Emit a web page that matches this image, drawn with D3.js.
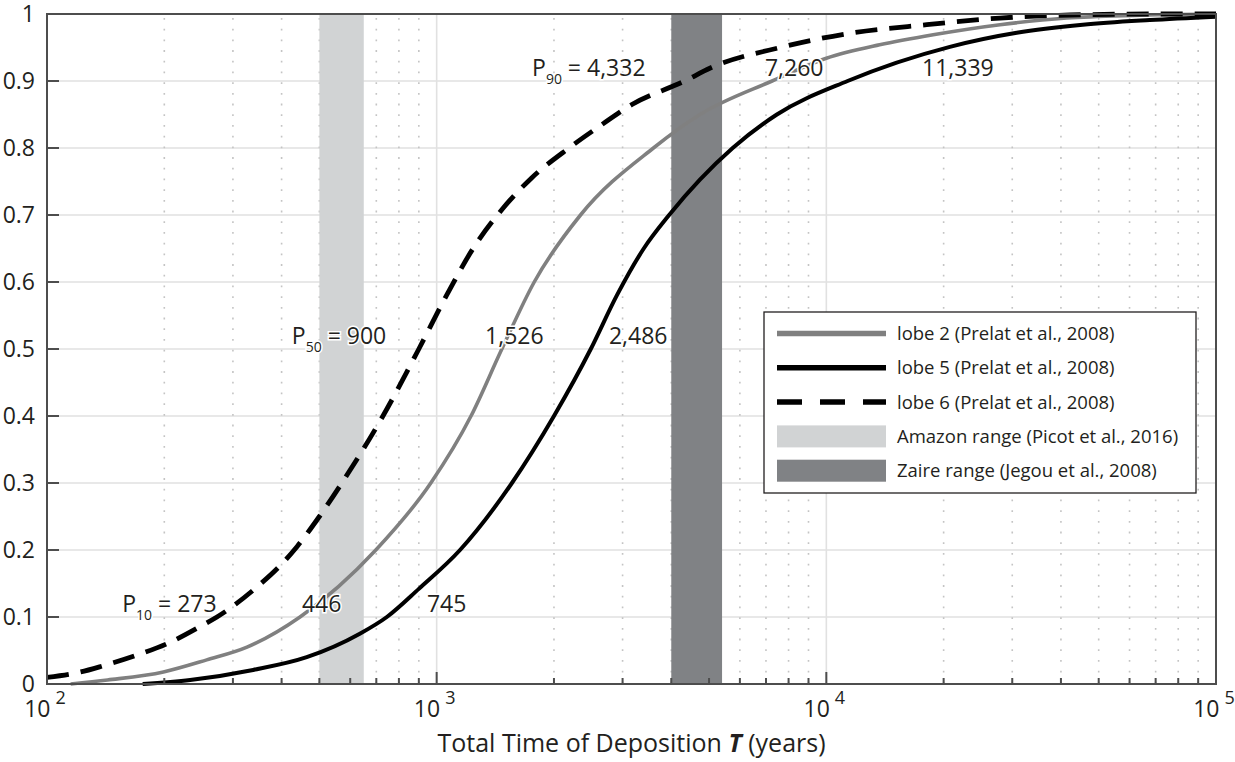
<!DOCTYPE html>
<html>
<head>
<meta charset="utf-8">
<script src="https://cdn.jsdelivr.net/npm/d3@7/dist/d3.min.js"></script>
<style>
  body { margin: 0; background: #fff; }
  text { font-family: "Open Sans", sans-serif; fill: #231f20; }
</style>
</head>
<body>
<svg id="chart"></svg>
<script>
// cumulative probability curves (T in years, P)
const lobe2T = [115, 143, 199, 257, 326, 446, 698, 966, 1225, 1470, 1780, 2340, 3600, 4740, 7260, 10000, 13700, 18800, 27900, 41400, 61200, 100000]
const lobe2P = [0, 0.006, 0.018, 0.036, 0.055, 0.1, 0.2, 0.3, 0.4, 0.5, 0.6, 0.7, 0.8, 0.85, 0.9, 0.934, 0.954, 0.969, 0.984, 0.994, 0.998, 1]

const lobe5T = [176, 233, 338, 464, 635, 745, 900, 1148, 1560, 2000, 2486, 2900, 3400, 3950, 5750, 7467, 11339, 20750, 30800, 45500, 67600, 100000]
const lobe5P = [0, 0.006, 0.021, 0.04, 0.075, 0.1, 0.142, 0.2, 0.3, 0.4, 0.5, 0.58, 0.65, 0.7, 0.8, 0.85, 0.9, 0.951, 0.972, 0.984, 0.991, 0.996]

const lobe6T = [100, 122, 139, 170, 203, 251, 273, 346, 397, 438, 500, 571, 728, 900, 1060, 1240, 1480, 1750, 2185, 2656, 3170, 4332, 5023, 7746, 11700, 18100, 27900, 42200, 70500, 100000]
const lobe6P = [0.01, 0.018, 0.027, 0.043, 0.06, 0.088, 0.1, 0.145, 0.177, 0.205, 0.25, 0.3, 0.4, 0.5, 0.58, 0.65, 0.71, 0.755, 0.8, 0.835, 0.865, 0.9, 0.919, 0.951, 0.972, 0.984, 0.994, 0.9985, 1, 1]

// shaded ranges (years)
const amazonRange = [500, 650]
const zaireRange = [4000, 5400]

const yTicks = [0, 0.1, 0.2, 0.3, 0.4, 0.5, 0.6, 0.7, 0.8, 0.9, 1]
const xDecades = [100, 1000, 10000, 100000]
const xExponents = ["2", "3", "4", "5"]

const legendLabels = ["lobe 2 (Prelat et al., 2008)", "lobe 5 (Prelat et al., 2008)", "lobe 6 (Prelat et al., 2008)",
  "Amazon range (Picot et al., 2016)", "Zaire range (Jegou et al., 2008)"]

// percentile annotations: [sub, text, T where text starts, P of the row]
const notes = [
  ["90", " = 4,332", 1757, 0.9], [null, "7,260", 6957, 0.9], [null, "11,339", 17600, 0.9],
  ["50", " = 900", 425, 0.5], [null, "1,526", 1331, 0.5], [null, "2,486", 2767, 0.5],
  ["10", " = 273", 156, 0.1], [null, "446", 451, 0.1], [null, "745", 944, 0.1]
]

const width = 1235, height = 762
const svg = d3.select("#chart").attr("width", width).attr("height", height)

const x = d3.scaleLog().domain([100, 100000]).range([47, 1216])
const y = d3.scaleLinear().domain([0, 1]).range([684, 14])

const minorTicks = []
xDecades.slice(0, 3).forEach(function(d) {
  for (let k = 2; k <= 9; k++) minorTicks.push(d * k)
})

// grid
const grid = svg.append("g")
grid.selectAll(".ygrid").data(yTicks.slice(1, -1)).enter().append("line")
  .attr("x1", x(100)).attr("x2", x(100000))
  .attr("y1", d => y(d)).attr("y2", d => y(d))
  .attr("stroke", "#e1e1e1").attr("stroke-width", 1.6)
grid.selectAll(".xgrid").data(xDecades.slice(1, -1)).enter().append("line")
  .attr("x1", d => x(d)).attr("x2", d => x(d))
  .attr("y1", y(0)).attr("y2", y(1))
  .attr("stroke", "#e1e1e1").attr("stroke-width", 1.6)
grid.selectAll(".xminor").data(minorTicks).enter().append("line")
  .attr("x1", d => x(d)).attr("x2", d => x(d))
  .attr("y1", y(1) + 4).attr("y2", y(0))
  .attr("stroke", "#c4c4c4").attr("stroke-width", 1.6)
  .attr("stroke-dasharray", "1.8,8.9")

// shaded ranges
svg.append("rect")
  .attr("x", x(amazonRange[0])).attr("width", x(amazonRange[1]) - x(amazonRange[0]))
  .attr("y", y(1)).attr("height", y(0) - y(1))
  .attr("fill", "#d1d3d4")
svg.append("rect")
  .attr("x", x(zaireRange[0])).attr("width", x(zaireRange[1]) - x(zaireRange[0]))
  .attr("y", y(1)).attr("height", y(0) - y(1))
  .attr("fill", "#808285")

// curves
const line = d3.line()
  .x(d => x(d[0]))
  .y(d => y(d[1]))
  .curve(d3.curveMonotoneX)

const series = [
  { t: lobe2T, p: lobe2P, color: "#808080", w: 3.6, dash: null },
  { t: lobe5T, p: lobe5P, color: "#000", w: 4, dash: null },
  { t: lobe6T, p: lobe6P, color: "#000", w: 4.8, dash: "22,12" }
]
svg.selectAll(".curve").data(series).enter().append("path")
  .attr("class", "curve")
  .attr("d", d => line(d.t.map((t, i) => [t, d.p[i]])))
  .attr("fill", "none")
  .attr("stroke", d => d.color)
  .attr("stroke-width", d => d.w)
  .attr("stroke-dasharray", d => d.dash)

// axes box and ticks
const axisColor = "#4d4d4d"
svg.append("rect")
  .attr("x", x(100)).attr("y", y(1))
  .attr("width", x(100000) - x(100)).attr("height", y(0) - y(1))
  .attr("fill", "none").attr("stroke", axisColor).attr("stroke-width", 2)

svg.selectAll(".ytick").data(yTicks).enter().append("line")
  .attr("x1", x(100)).attr("x2", x(100) + 12)
  .attr("y1", d => y(d)).attr("y2", d => y(d))
  .attr("stroke", axisColor).attr("stroke-width", 2)
svg.selectAll(".ylab").data(yTicks).enter().append("text")
  .attr("x", 35).attr("y", d => y(d))
  .attr("dy", "0.36em")
  .attr("text-anchor", "end")
  .attr("font-size", 23)
  .text(d => (d === 0 || d === 1) ? d : d.toFixed(1))

svg.selectAll(".xminortick").data(minorTicks).enter().append("line")
  .attr("x1", d => x(d)).attr("x2", d => x(d))
  .attr("y1", y(0)).attr("y2", y(0) - 6)
  .attr("stroke", axisColor).attr("stroke-width", 2)
svg.selectAll(".xmajortick").data(xDecades).enter().append("line")
  .attr("x1", d => x(d)).attr("x2", d => x(d))
  .attr("y1", y(0)).attr("y2", y(0) - 12)
  .attr("stroke", axisColor).attr("stroke-width", 2)

const xlab = svg.selectAll(".xlab").data(xDecades).enter().append("text")
  .attr("x", d => x(d) - 2).attr("y", 717)
  .attr("text-anchor", "middle")
  .attr("font-size", 23)
xlab.append("tspan").text("10")
xlab.append("tspan").attr("dx", 5).attr("dy", -13).attr("font-size", 18)
  .text((d, i) => xExponents[i])

const title = svg.append("text")
  .attr("x", (x(100) + x(100000)) / 2).attr("y", 752)
  .attr("text-anchor", "middle")
  .attr("font-size", 25)
title.append("tspan").text("Total Time of Deposition ")
title.append("tspan").attr("font-weight", "bold").attr("font-style", "italic").text("T")
title.append("tspan").text(" (years)")

// percentile labels
notes.forEach(function(n) {
  const t = svg.append("text")
    .attr("x", x(n[2])).attr("y", y(n[3]) - 5)
    .attr("font-size", 23)
    .attr("stroke", "#fff").attr("stroke-width", 3)
    .attr("paint-order", "stroke")
  if (n[0]) {
    t.append("tspan").text("P")
    t.append("tspan").attr("font-size", 14).attr("dy", 8).text(n[0])
    t.append("tspan").attr("dy", -8).text(n[1])
  } else {
    t.text(n[1])
  }
})

// legend
const lg = svg.append("g").attr("transform", "translate(764,312)")
lg.append("rect").attr("width", 432).attr("height", 181)
  .attr("fill", "#fff").attr("stroke", "#231f20").attr("stroke-width", 1.3)

const legendItems = [
  { type: "line", color: "#808080", dash: null },
  { type: "line", color: "#000", dash: null },
  { type: "line", color: "#000", dash: "25,18" },
  { type: "patch", color: "#d1d3d4" },
  { type: "patch", color: "#808285" }
]
legendItems.forEach(function(item, i) {
  const cy = 21.5 + i * 34.3
  if (item.type === "line") {
    lg.append("line")
      .attr("x1", 13).attr("x2", 122).attr("y1", cy).attr("y2", cy)
      .attr("stroke", item.color).attr("stroke-width", 5.5)
      .attr("stroke-dasharray", item.dash)
  } else {
    lg.append("rect")
      .attr("x", 13).attr("y", cy - 11).attr("width", 109).attr("height", 22)
      .attr("fill", item.color)
  }
  lg.append("text")
    .attr("x", 133).attr("y", cy).attr("dy", "0.36em")
    .attr("font-size", 18.5)
    .text(legendLabels[i])
})
</script>
</body>
</html>
